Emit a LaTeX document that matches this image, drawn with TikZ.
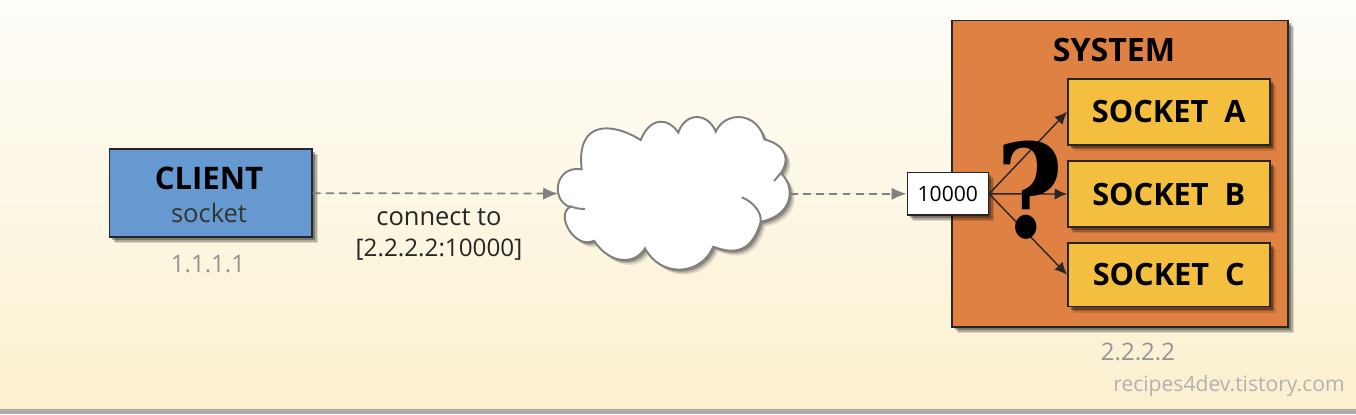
\documentclass[tikz,border=0pt]{standalone}
\usepackage{fontspec}
\setmainfont{Open Sans}
\newfontfamily\markfont{DejaVu Serif}
\usetikzlibrary{shadows}
\usetikzlibrary{calc}
\usetikzlibrary{arrows.meta}
\definecolor{clientblue}{HTML}{6699CF}
\definecolor{systemorange}{HTML}{DE8142}
\definecolor{socketyellow}{HTML}{F4BF3F}
\definecolor{paperlight}{HTML}{FEFDF9}
\definecolor{paperdark}{HTML}{FBF0CF}
\definecolor{dashgray}{HTML}{808080}
\newcommand{\cloudoutline}{(581.7,169.3) .. controls (576,120) and (612,122) .. (640.7,140) .. controls (650,117) and (668,117) .. (678.3,132.7) .. controls (685,112) and (708,112) .. (715.7,131.7) .. controls (725,111) and (757,111) .. (764.3,139.3) .. controls (789,146) and (789,162) .. (780.7,173.3) .. controls (795,185) and (795,215) .. (760.7,221.7) .. controls (752,252) and (735,255) .. (713.3,246.7) .. controls (700,277) and (660,277) .. (645,248.3) .. controls (635,265) and (610,265) .. (594,240.7) .. controls (575,250) and (555,215) .. (570,207) .. controls (550,200) and (555,165) .. (581.7,169.3) -- cycle}
\begin{document}
\begin{tikzpicture}[x=0.02cm,y=-0.02cm,
softshadow/.style={drop shadow={shadow xshift=3.4pt,shadow yshift=-3.4pt,fill=black,opacity=.12},drop shadow={shadow xshift=2.6pt,shadow yshift=-2.6pt,fill=black,opacity=.2},drop shadow={shadow xshift=1.6pt,shadow yshift=-1.6pt,fill=black,opacity=.3}},
box/.style={rectangle,draw=black!85,line width=.9pt,inner sep=0pt,softshadow},
socketbox/.style={box,fill=socketyellow,minimum width=4.04cm,minimum height=1.3cm,font=\fontsize{17.5}{20}\selectfont\bfseries},
addr/.style={text=black!42,font=\fontsize{13.7}{15}\selectfont},
linktext/.style={text=black!85,font=\fontsize{#1}{16}\selectfont},
dashlink/.style={draw=dashgray,line width=1pt,dash pattern=on 4.5pt off 3pt},
dashtip/.style={-{Latex[length=8.5pt,width=7pt]},dashlink,fill=dashgray},
solidlink/.style={-{Latex[length=7pt,width=6.5pt]},draw=black!85,line width=.8pt}]
\useasboundingbox (0,0) rectangle (1356,414);
\shade[top color=paperlight,bottom color=paperdark] (0,0) rectangle (1356,409);
\fill[black!32] (0,409) rectangle (1356,414);
% cloud
\foreach \d/\o in {5/.10,3.5/.16,2/.25} {
\fill[black,opacity=\o,shift={(\d,\d)}] \cloudoutline;
}
\draw[fill=white,draw=dashgray,line width=1.1pt] \cloudoutline;
\draw[draw=dashgray,line width=1.1pt] (570,206) .. controls (574,208) and (580,209) .. (585,209);
\draw[draw=dashgray,line width=1.1pt] (741.7,197.3) .. controls (752,201) and (762,212) .. (760.7,221.7);
\draw[draw=dashgray,line width=1.1pt] (780.7,173.3) -- (774,181);
\node (net) at (674,193.8) [minimum width=4.62cm,minimum height=3cm,inner sep=0pt] {};
% client
\node (client) at (210.7,193) [box,fill=clientblue,minimum width=4.05cm,minimum height=1.76cm] {};
\node (clientname) at (209,178) [font=\fontsize{17.7}{20}\selectfont\bfseries] {CLIENT};
\node (clientsock) at (209,213) [text=black!80,font=\fontsize{14.5}{16}\selectfont] {socket};
\node (clientaddr) at (208,264) [addr] {1.1.1.1};
% system
\node (system) at (1120,173.8) [box,fill=systemorange,minimum width=6.72cm,minimum height=6.13cm] {};
\node (systemname) at (1114,50) [font=\fontsize{18.3}{20}\selectfont\bfseries] {SYSTEM};
\node (systemaddr) at (1138,352) [addr] {2.2.2.2};
\foreach \n/\y/\h in {A/111.8/1.32cm,B/194/1.32cm,C/274.7/1.28cm} {
\node (socket\n) at (1168.8,\y) [socketbox,minimum height=\h] {SOCKET\ \ \n};
}
\node (port) at (947.8,193.8) [box,fill=white,minimum width=1.62cm,minimum height=.85cm,font=\fontsize{12}{14}\selectfont] {10000};
% links
\draw[dashtip] (client) -- (net);
\draw[dashtip] (net) -- (port);
\foreach \n in {A,B,C} {
\draw[solidlink] (port.east) -- (socket\n.west);
}
\node (mark) at (1030,190) [inner sep=0pt,xscale=.88,font=\fontsize{74}{80}\selectfont\markfont\bfseries] {?};
\node (conn1) at (439,217) [linktext=14.5] {connect to};
\node (conn2) at (439,250) [linktext=13.8] {[2.2.2.2:10000]};
\node (credit) at (1229,386) [text=black!30,font=\fontsize{12}{15}\selectfont] {recipes4dev.tistory.com};
\end{tikzpicture}
\end{document}
